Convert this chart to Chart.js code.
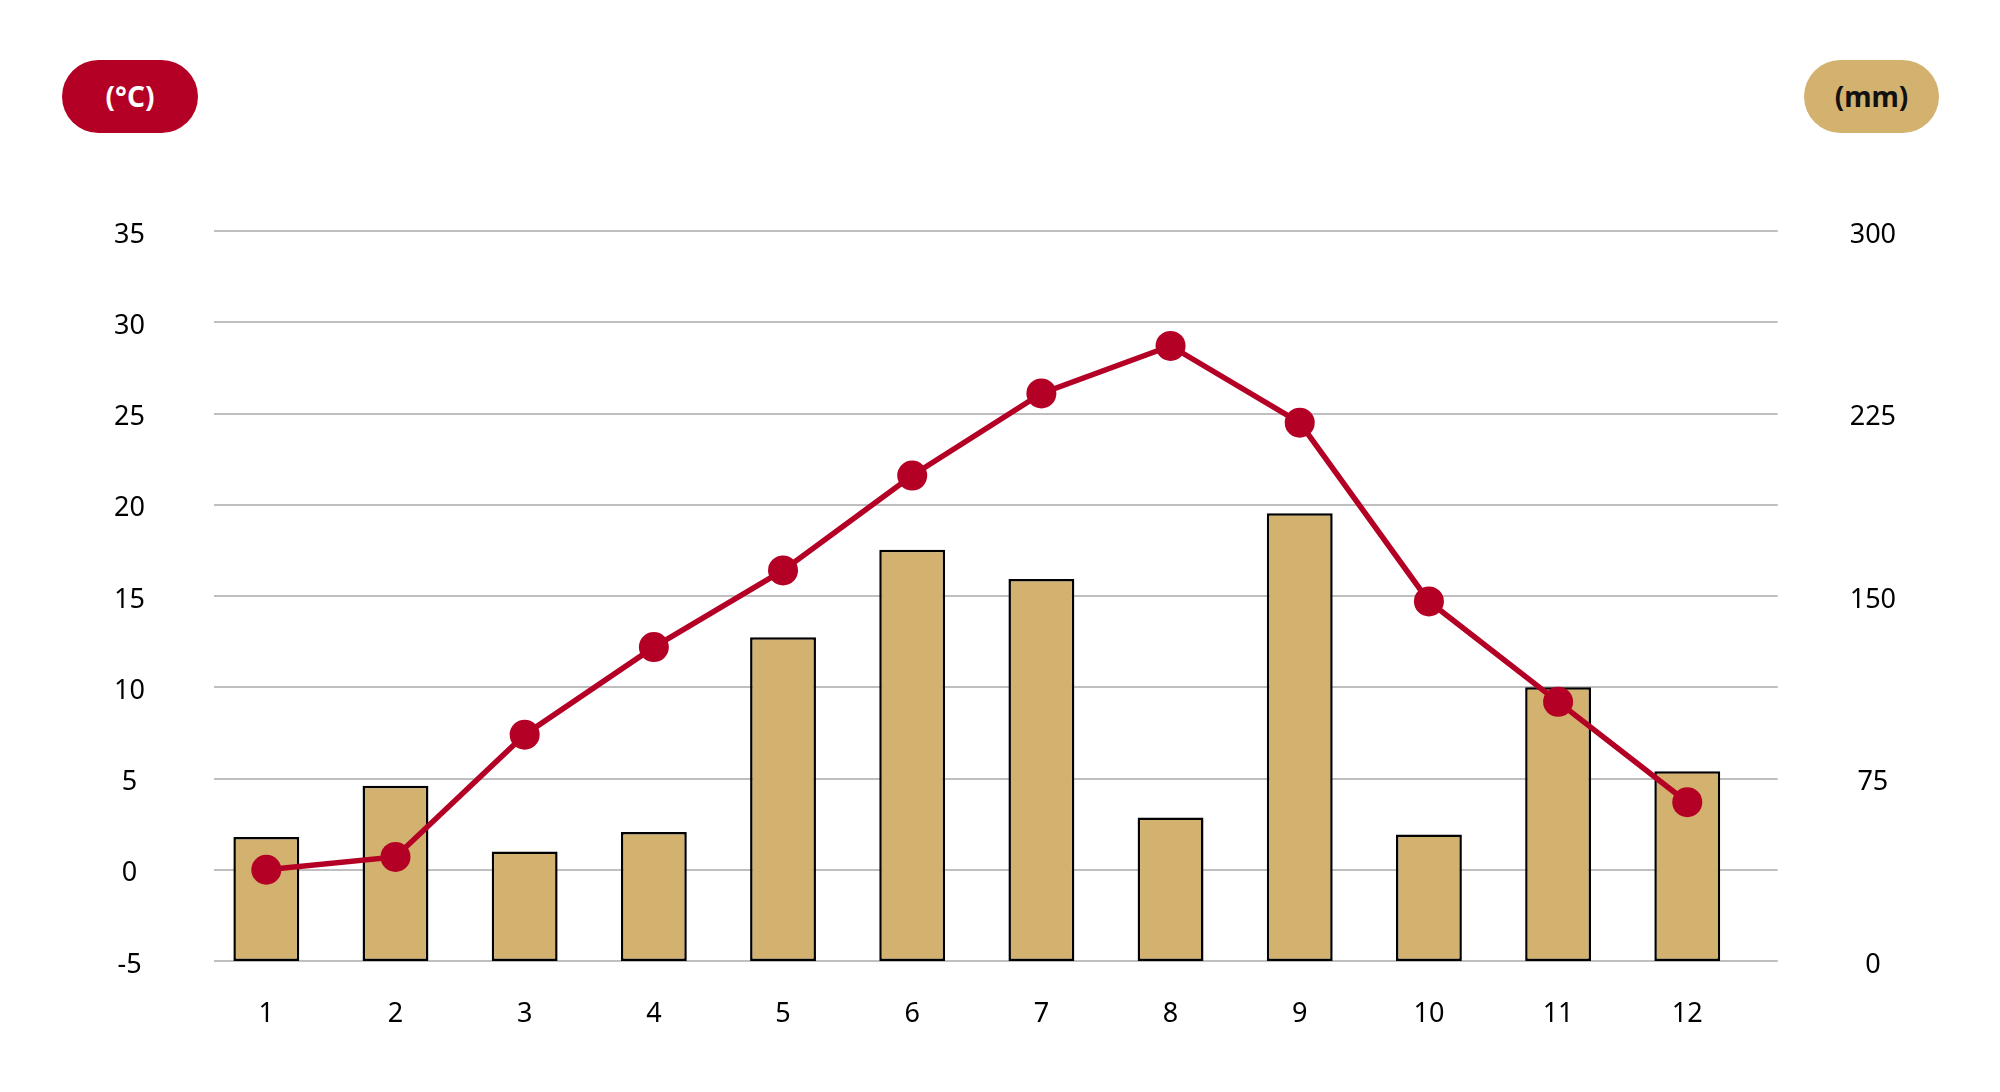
<!DOCTYPE html>
<html lang="ja">
<head>
    <meta charset="UTF-8">
    <title>Climate chart</title>
    <script src="https://cdn.jsdelivr.net/npm/chart.js"></script>
    <style>
        html, body {
            margin: 0;
            padding: 0;
            background: #ffffff;
            font-family: "Noto Sans", sans-serif;
        }
        .wrap {
            position: relative;
            width: 2000px;
            height: 1092px;
        }
        .badge {
            position: absolute;
            top: 60px;
            height: 73px;
            width: 136px;
            border-radius: 37px;
            font-weight: bold;
            font-size: 28px;
            line-height: 73px;
            text-align: center;
        }
        .badge.temp {
            left: 62px;
            background: #b50026;
            color: #ffffff;
        }
        .badge.rain {
            left: 1804px;
            width: 135px;
            background: #d3b16e;
            color: #111111;
        }
    </style>
</head>
<body>

<div class="wrap">
    <canvas id="climateChart" width="2000" height="1092"></canvas>
    <div class="badge temp">(°C)</div>
    <div class="badge rain">(mm)</div>
</div>

<script>
const months = [1, 2, 3, 4, 5, 6, 7, 8, 9, 10, 11, 12];
const temperature = [0, 0.7, 7.4, 12.2, 16.4, 21.6, 26.1, 28.7, 24.5, 14.7, 9.2, 3.7];
const precipitation = [51, 72, 45, 53, 133, 169, 157, 59, 184, 52, 112.5, 78];
const tempTicks = [-5, 0, 5, 10, 15, 20, 25, 30, 35];
const rainTicks = [0, 75, 150, 225, 300];

const RED = '#b50026';
const GOLD = '#d3b16e';
const tickFont = { family: 'Noto Sans', size: 27 };

new Chart(document.getElementById('climateChart'), {
    data: {
        datasets: [
            {
                type: 'line',
                label: '気温',
                data: months.map((m, i) => ({ x: m, y: temperature[i] })),
                yAxisID: 'y',
                order: 0,
                borderColor: RED,
                backgroundColor: RED,
                borderWidth: 5.5,
                pointRadius: 15,
                pointHoverRadius: 15,
                pointBorderWidth: 0,
                tension: 0
            },
            {
                type: 'bar',
                label: '降水量',
                data: months.map((m, i) => ({ x: m, y: precipitation[i] })),
                yAxisID: 'y1',
                order: 1,
                backgroundColor: GOLD,
                borderColor: '#000000',
                borderWidth: 2.5,
                borderSkipped: false,
                categoryPercentage: 1.0,
                barPercentage: 0.51
            }
        ]
    },
    options: {
        responsive: false,
        animation: false,
        devicePixelRatio: 1,
        layout: {
            padding: { top: 231, right: 0, bottom: 0, left: 0 }
        },
        plugins: {
            legend: { display: false },
            tooltip: { enabled: false }
        },
        scales: {
            x: {
                type: 'linear',
                offset: false,
                min: 0.595,
                max: 12.70,
                grid: { display: false, drawTicks: false, offset: false },
                border: { display: false },
                afterBuildTicks: function(scale) {
                    scale.ticks = months.map(v => ({ value: v }));
                },
                afterFit: function(scale) {
                    scale.height = 131;
                },
                ticks: {
                    color: '#000000',
                    font: tickFont,
                    padding: 37,
                    maxRotation: 0,
                    autoSkip: false,
                    callback: v => String(v)
                }
            },
            y: {
                position: 'left',
                min: -5,
                max: 35,
                grid: { color: '#bfbfbf', lineWidth: 2, drawTicks: false },
                border: { display: false },
                afterBuildTicks: function(scale) {
                    scale.ticks = tempTicks.map(v => ({ value: v }));
                },
                afterFit: function(scale) {
                    scale.width = 214;
                },
                ticks: {
                    color: '#000000',
                    font: tickFont,
                    padding: 69,
                    labelOffset: 4,
                    crossAlign: 'center'
                }
            },
            y1: {
                position: 'right',
                min: 0,
                max: 300,
                grid: { display: false, drawTicks: false },
                border: { display: false },
                afterBuildTicks: function(scale) {
                    scale.ticks = rainTicks.map(v => ({ value: v }));
                },
                afterFit: function(scale) {
                    scale.width = 222.3;
                },
                ticks: {
                    color: '#000000',
                    font: tickFont,
                    padding: 72,
                    labelOffset: 4,
                    crossAlign: 'center'
                }
            }
        }
    }
});
</script>

</body>
</html>
